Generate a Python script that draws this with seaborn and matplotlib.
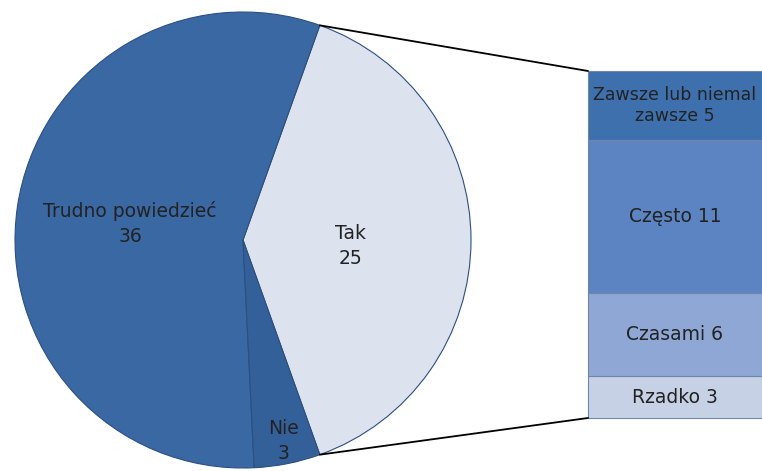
import numpy as np
import matplotlib
matplotlib.use("Agg")
import matplotlib.pyplot as plt
import seaborn as sns

# Data
pie_labels = ["Tak", "Trudno powiedzieć", "Nie"]
pie_values = [25, 36, 3]
pie_colors = ["#dce3ee", "#3a68a3", "#34609a"]

bar_labels = ["Rzadko", "Czasami", "Często", "Zawsze lub niemal\nzawsze"]
bar_values = [3, 6, 11, 5]
bar_colors = ["#c6d1e6", "#8ea7d4", "#5c83c2", "#3f70ae"]

sns.set_theme(style="white")
plt.rcParams["font.family"] = ["DejaVu Sans"]

W, H = 762, 471
fig = plt.figure(figsize=(W / 100, H / 100), dpi=100)
ax = fig.add_axes([0, 0, 1, 1])

# ── pie ─────────────────────────────────────────────────────────────────────
cx, cy, r = 243, 231, 228
total = sum(pie_values)
start = -pie_values[0] / total * 180
wedges, _ = ax.pie(pie_values, colors=pie_colors, startangle=start,
                   counterclock=True, center=(cx, cy), radius=r,
                   wedgeprops=dict(edgecolor="#2c4f80", linewidth=0.8),
                   frame=True)
ax.set_xlim(0, W)
ax.set_ylim(0, H)
ax.set_aspect("equal")
ax.axis("off")

label_frac = [0.47, 0.5, 0.9]
label_dy = [-6, 0, 0]
ang = start
for lab, val, frac, dy in zip(pie_labels, pie_values, label_frac, label_dy):
    span = val / total * 360
    mid = np.deg2rad(ang + span / 2)
    ax.text(cx + frac * r * np.cos(mid), cy + frac * r * np.sin(mid) + dy,
            f"{lab}\n{val}", ha="center", va="center", fontsize=13.5,
            color="#222222", linespacing=1.4)
    ang += span

# ── stacked bar ─────────────────────────────────────────────────────────────
bx0, bx1 = 588, 762
by0, by1 = 53, 400
scale = (by1 - by0) / sum(bar_values)
bottom = by0
for lab, val, col in zip(bar_labels, bar_values, bar_colors):
    h = val * scale
    ax.bar((bx0 + bx1) / 2, h, width=bx1 - bx0, bottom=bottom, color=col,
           edgecolor="#6f86a8", linewidth=0.8)
    fs = 12.5 if "\n" in lab else 13.5
    ax.text((bx0 + bx1) / 2, bottom + h / 2, f"{lab} {val}",
            ha="center", va="center", fontsize=fs, color="#222222",
            linespacing=1.2)
    bottom += h

# connector lines from the Tak wedge edges to the bar corners
t0 = np.deg2rad(start)
t1 = np.deg2rad(-start)
ax.plot([cx + r * np.cos(t1), bx0], [cy + r * np.sin(t1), by1],
        color="black", linewidth=1.3)
ax.plot([cx + r * np.cos(t0), bx0], [cy + r * np.sin(t0), by0],
        color="black", linewidth=1.3)

fig.savefig("out.png", dpi=100)
